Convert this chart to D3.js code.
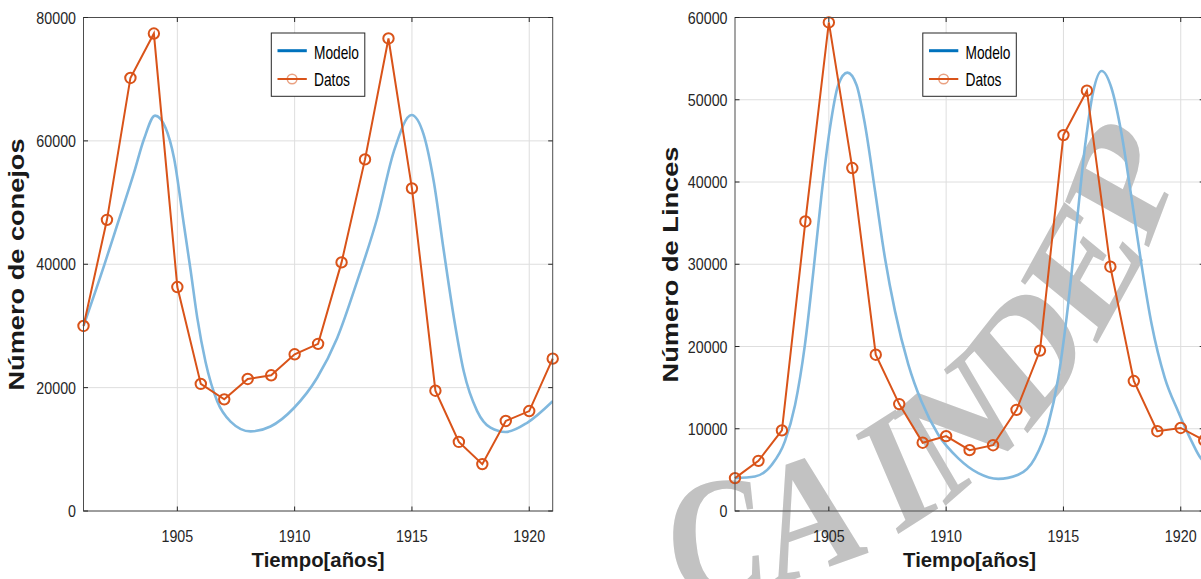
<!DOCTYPE html>
<html>
<head>
<meta charset="utf-8">
<script src="https://cdn.jsdelivr.net/npm/d3@7"></script>
<style>
  body { margin: 0; background: #fff; }
  svg { display: block; }
</style>
</head>
<body>
<svg id="canvas" width="1201" height="579"></svg>
<script>
// years of the Hudson Bay records
const years = [1901, 1902, 1903, 1904, 1905, 1906, 1907, 1908, 1909, 1910, 1911,
               1912, 1913, 1914, 1915, 1916, 1917, 1918, 1919, 1920, 1921];
const xTicks = [1905, 1910, 1915, 1920];

// data (orange markers)
const conejosDatos = [30000, 47200, 70200, 77400, 36300, 20600, 18100, 21400, 22000, 25400, 27100,
                      40300, 57000, 76600, 52300, 19500, 11200, 7600, 14600, 16200, 24700];
const lincesDatos = [4000, 6100, 9800, 35200, 59400, 41700, 19000, 13000, 8300, 9100, 7400,
                     8000, 12300, 19500, 45700, 51100, 29700, 15800, 9700, 10100, 8600];

// model curves
const conejosModeloT = [1901.00, 1901.87, 1902.44, 1903.15, 1903.58, 1904.05, 1904.50, 1904.86, 1905.28,
                        1905.57, 1905.85, 1906.20, 1906.70, 1907.27, 1908.12, 1908.97, 1909.97, 1910.96,
                        1911.81, 1912.67, 1913.52, 1914.23, 1914.98, 1915.50, 1915.93, 1916.36, 1916.79,
                        1917.21, 1917.78, 1918.35, 1918.99, 1919.91, 1921.00];
const conejosModelo = [30000, 39700, 46400, 54800, 60300, 64100, 62100, 57200, 46400,
                       38900, 31300, 24200, 17800, 14500, 12900, 13700, 16700, 21600,
                       28000, 37300, 47500, 58300, 64200, 61000, 53400, 42100, 31300,
                       22600, 16200, 13500, 12800, 14300, 17800];

const lincesModeloT = [1901.00, 1901.85, 1902.56, 1903.13, 1903.56, 1903.98, 1904.34, 1904.69, 1905.05,
                       1905.40, 1905.79, 1906.18, 1906.54, 1906.97, 1907.39, 1907.82, 1908.39, 1908.95,
                       1909.66, 1910.52, 1911.37, 1912.22, 1913.07, 1913.78, 1914.35, 1914.78, 1915.20,
                       1915.56, 1915.91, 1916.27, 1916.63, 1917.05, 1917.48, 1917.90, 1918.33, 1918.76,
                       1919.32, 1919.89, 1920.46, 1920.86, 1921.00];
const lincesModelo = [4000, 4200, 5600, 8500, 12900, 20200, 29100, 38500, 46600,
                      51800, 53300, 51800, 47000, 38900, 30800, 24300, 17800, 13300,
                      9300, 6400, 4600, 3900, 4400, 6400, 10500, 16200, 25100,
                      34800, 44100, 51000, 53500, 51400, 45800, 38100, 29900, 22700,
                      16200, 12100, 8500, 6400, 6000];

const conejosTicks = [0, 20000, 40000, 60000, 80000];
const lincesTicks = [0, 10000, 20000, 30000, 40000, 50000, 60000];

const canvas = d3.select('#canvas');

const blueLegend = '#0072BD';
const blueLine = '#80b8de';
const orange = '#D95319';
const axisColor = '#262626';
const tickFont = "'Liberation Sans', Arial, sans-serif";

const plotTop = 17.5, plotBottom = 511, plotW = 469.2;

// narrow text, like the condensed tick labels in the picture
let narrowText = (g, x, y, str, anchor, size, sx) => {
  return g.append('text')
    .attr('transform', `translate(${x},${y}) scale(${sx},1)`)
    .attr('text-anchor', anchor)
    .attr('font-family', tickFont)
    .attr('font-size', size)
    .attr('fill', axisColor)
    .text(str);
};

let drawPanel = (p) => {
  const x = d3.scaleLinear().domain([1901, 1921]).range([p.left, p.left + plotW]);
  const y = d3.scaleLinear().domain([0, p.yMax]).range([plotBottom, plotTop]);
  const g = canvas.append('g');

  // grid
  g.selectAll('.vgrid').data(xTicks).enter().append('line')
    .attr('x1', d => x(d)).attr('x2', d => x(d))
    .attr('y1', plotTop).attr('y2', plotBottom)
    .attr('stroke', '#dedede').attr('stroke-width', 1);
  g.selectAll('.hgrid').data(p.yTicks).enter().append('line')
    .attr('x1', x(1901)).attr('x2', x(1921))
    .attr('y1', d => y(d)).attr('y2', d => y(d))
    .attr('stroke', '#dedede').attr('stroke-width', 1);

  // watermark sits under the curves
  if (p.watermark) p.watermark(g);

  // model
  const clipId = 'clip' + p.id;
  g.append('clipPath').attr('id', clipId).append('rect')
    .attr('x', x(1901)).attr('y', plotTop).attr('width', plotW).attr('height', plotBottom - plotTop);
  const modelPts = p.modelT.map((t, i) => [t, p.model[i]]);
  g.append('path')
    .datum(modelPts)
    .attr('clip-path', `url(#${clipId})`)
    .attr('fill', 'none')
    .attr('stroke', blueLine)
    .attr('stroke-width', 2.6)
    .attr('d', d3.line().x(d => x(d[0])).y(d => y(d[1])).curve(d3.curveMonotoneX));

  // data
  const dataPts = years.map((t, i) => [t, p.data[i]]);
  g.append('path')
    .datum(dataPts)
    .attr('fill', 'none')
    .attr('stroke', orange)
    .attr('stroke-width', 2)
    .attr('d', d3.line().x(d => x(d[0])).y(d => y(d[1])));
  g.selectAll('.mk').data(dataPts).enter().append('circle')
    .attr('cx', d => x(d[0])).attr('cy', d => y(d[1]))
    .attr('r', 5.2)
    .attr('fill', 'none')
    .attr('stroke', orange)
    .attr('stroke-width', 2);

  // box
  g.append('rect')
    .attr('x', x(1901)).attr('y', plotTop)
    .attr('width', plotW).attr('height', plotBottom - plotTop)
    .attr('fill', 'none').attr('stroke', '#4d4d4d').attr('stroke-width', 1);

  // inward ticks
  xTicks.forEach(t => {
    g.append('line').attr('x1', x(t)).attr('x2', x(t)).attr('y1', plotBottom).attr('y2', plotBottom - 4.5)
      .attr('stroke', axisColor);
    g.append('line').attr('x1', x(t)).attr('x2', x(t)).attr('y1', plotTop).attr('y2', plotTop + 4.5)
      .attr('stroke', axisColor);
    narrowText(g, x(t), 542, t, 'middle', 17, 0.84);
  });
  p.yTicks.forEach(v => {
    g.append('line').attr('x1', x(1901)).attr('x2', x(1901) + 4.5).attr('y1', y(v)).attr('y2', y(v))
      .attr('stroke', axisColor);
    g.append('line').attr('x1', x(1921)).attr('x2', x(1921) - 4.5).attr('y1', y(v)).attr('y2', y(v))
      .attr('stroke', axisColor);
    narrowText(g, x(1901) - 7.5, y(v) + 6, v, 'end', 17, 0.84);
  });

  // axis labels
  g.append('text')
    .attr('transform', `translate(${(x(1901) + x(1921)) / 2},567)`)
    .attr('text-anchor', 'middle')
    .attr('font-family', tickFont)
    .attr('font-weight', 'bold')
    .attr('font-size', 21)
    .attr('textLength', 133)
    .attr('lengthAdjust', 'spacingAndGlyphs')
    .attr('fill', '#1a1a1a')
    .text('Tiempo[años]');
  g.append('text')
    .attr('transform', `translate(${p.yLabelX},264.5) rotate(-90)`)
    .attr('text-anchor', 'middle')
    .attr('font-family', tickFont)
    .attr('font-weight', 'bold')
    .attr('font-size', 21.5)
    .attr('textLength', p.yLabelLen)
    .attr('lengthAdjust', 'spacingAndGlyphs')
    .attr('fill', '#1a1a1a')
    .text(p.yLabel);

  // legend
  const lx = p.left + 187.8;
  const lg = g.append('g');
  lg.append('rect')
    .attr('x', lx).attr('y', 33).attr('width', 93.5).attr('height', 63.3)
    .attr('fill', '#fff').attr('stroke', axisColor).attr('stroke-width', 1);
  lg.append('line').attr('x1', lx + 6.2).attr('x2', lx + 35.5).attr('y1', 50.7).attr('y2', 50.7)
    .attr('stroke', blueLegend).attr('stroke-width', 3);
  lg.append('line').attr('x1', lx + 6.2).attr('x2', lx + 35.5).attr('y1', 79).attr('y2', 79)
    .attr('stroke', orange).attr('stroke-width', 2);
  lg.append('circle').attr('cx', lx + 20.8).attr('cy', 79).attr('r', 4.8)
    .attr('fill', 'none').attr('stroke', orange).attr('stroke-opacity', 0.55).attr('stroke-width', 1.5);
  [['Modelo', 58.5, 45], ['Datos', 86.3, 36]].forEach(([s, yy, len]) => {
    lg.append('text')
      .attr('x', lx + 42.7).attr('y', yy)
      .attr('font-family', tickFont)
      .attr('font-size', 19)
      .attr('textLength', len)
      .attr('lengthAdjust', 'spacingAndGlyphs')
      .attr('fill', '#000')
      .text(s);
  });
};

drawPanel({
  id: 'a', left: 83.5, yMax: 80000, yTicks: conejosTicks,
  modelT: conejosModeloT, model: conejosModelo, data: conejosDatos,
  yLabel: 'Número de conejos', yLabelX: 23.5, yLabelLen: 252
});

drawPanel({
  id: 'b', left: 735, yMax: 60000, yTicks: lincesTicks,
  modelT: lincesModeloT, model: lincesModelo, data: lincesDatos,
  yLabel: 'Número de Linces', yLabelX: 678, yLabelLen: 236,
  watermark: (g) => {
    // arched scan watermark, stretched vertically like the rest of the picture
    const wm = g.append('g').attr('transform', 'scale(1,1.22)');
    wm.append('path').attr('id', 'wmPath').attr('fill', 'none')
      .attr('d', 'M 613.7,488.2 A 553.6,553.6 0 0,0 1215.5,-63.3');
    wm.append('text')
      .attr('font-family', "'Liberation Serif', 'Times New Roman', serif")
      .attr('font-weight', 'bold')
      .attr('font-size', 140)
      .attr('fill', '#c2c2c2')
      .append('textPath')
      .attr('href', '#wmPath')
      .attr('startOffset', 58)
      .text('CA INDEP');
  }
});
</script>
</body>
</html>
